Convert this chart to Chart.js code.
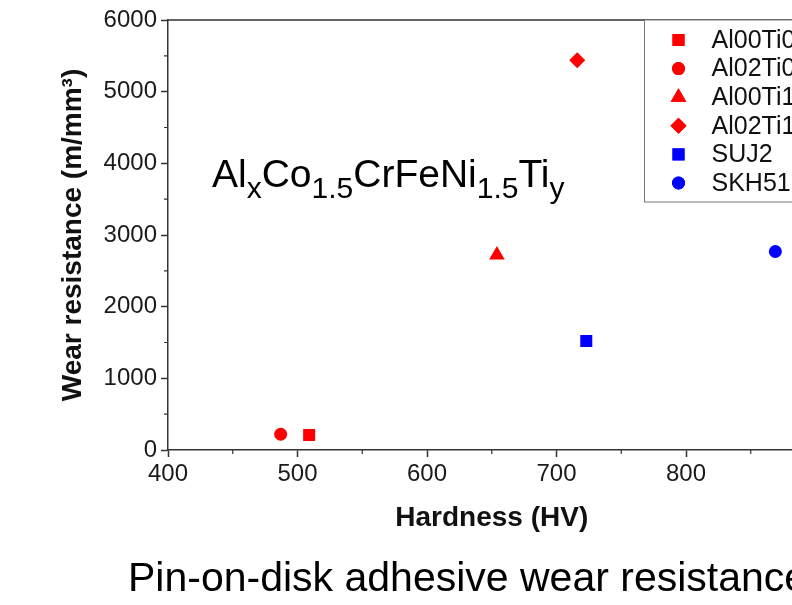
<!DOCTYPE html>
<html>

<head>
    <title>Wear resistance vs hardness</title>
    <script src="https://cdn.jsdelivr.net/npm/chart.js"></script>
    <style>
        html, body { margin: 0; padding: 0; background: #fff; overflow: hidden; }
    </style>
</head>

<body>
    <canvas id="wearChart" width="840" height="605"></canvas>

    <script>
        // samples, in legend order
        const alloys = ['Al00Ti05', 'Al02Ti05', 'Al00Ti10', 'Al02Ti10', 'SUJ2', 'SKH51'];
        const hardness = [509, 487, 654, 716, 723, 869];       // HV
        const wearResistance = [210, 220, 2720, 5440, 1520, 2770]; // m/mm3
        const colors = ['#ff0000', '#ff0000', '#ff0000', '#ff0000', '#0000ff', '#0000ff'];
        const shapes = ['rect', 'circle', 'triangle', 'rectRot', 'rect', 'circle'];
        const sizes = [8.5, 6.5, 9, 8, 8.5, 6.5];

        const xTicks = [400, 500, 600, 700, 800, 900];
        const yTicks = [0, 1000, 2000, 3000, 4000, 5000, 6000];

        const FONT = "'Liberation Sans', Arial, Helvetica, sans-serif";
        const AXIS = '#333';

        const datasets = alloys.map((name, i) => ({
            label: name,
            data: [{ x: hardness[i], y: wearResistance[i] }],
            pointStyle: shapes[i],
            pointRadius: sizes[i],
            pointHoverRadius: sizes[i],
            backgroundColor: colors[i],
            borderColor: colors[i],
            borderWidth: 0,
        }));

        // frame, minor ticks, legend box, formula and caption
        const decorations = {
            id: 'decorations',
            afterDraw(chart) {
                const ctx = chart.ctx;
                const a = chart.chartArea;
                const xs = chart.scales.x, ys = chart.scales.y;
                ctx.save();

                // top and right edges of the frame
                ctx.strokeStyle = AXIS;
                ctx.lineWidth = 1.5;
                ctx.beginPath();
                ctx.moveTo(a.left, a.top);
                ctx.lineTo(a.right, a.top);
                ctx.lineTo(a.right, a.bottom);
                ctx.stroke();

                // minor ticks halfway between the labelled ones
                ctx.lineWidth = 1.2;
                ctx.beginPath();
                for (let i = 0; i < xTicks.length - 1; i++) {
                    const px = xs.getPixelForValue((xTicks[i] + xTicks[i + 1]) / 2);
                    ctx.moveTo(px, a.bottom);
                    ctx.lineTo(px, a.bottom + 4);
                }
                for (let i = 0; i < yTicks.length - 1; i++) {
                    const py = ys.getPixelForValue((yTicks[i] + yTicks[i + 1]) / 2);
                    ctx.moveTo(a.left, py);
                    ctx.lineTo(a.left - 4, py);
                }
                ctx.stroke();

                // legend in the top right corner
                const boxW = 171, rowH = 28.6;
                const bx = a.right - boxW, by = a.top;
                ctx.fillStyle = '#fff';
                ctx.fillRect(bx, by, boxW, 182);
                ctx.strokeStyle = '#777';
                ctx.lineWidth = 1;
                ctx.strokeRect(bx, by, boxW, 182);
                ctx.font = '25px ' + FONT;
                ctx.textBaseline = 'middle';
                ctx.textAlign = 'left';
                chart.data.datasets.forEach((ds, i) => {
                    const cy = by + 20 + i * rowH;
                    ctx.fillStyle = ds.backgroundColor;
                    Chart.helpers.drawPoint(ctx, {
                        pointStyle: ds.pointStyle,
                        radius: ds.pointRadius,
                        borderWidth: 0,
                        rotation: 0
                    }, bx + 34, cy);
                    ctx.fill();
                    ctx.fillStyle = '#111';
                    ctx.fillText(ds.label, bx + 67, cy + 1);
                });

                // alloy formula with subscripts
                const parts = [['Al', 0], ['x', 1], ['Co', 0], ['1.5', 1], ['CrFeNi', 0], ['1.5', 1], ['Ti', 0], ['y', 1]];
                let tx = 212;
                ctx.fillStyle = '#000';
                ctx.textBaseline = 'alphabetic';
                parts.forEach(([t, sub]) => {
                    ctx.font = (sub ? '30px ' : '39px ') + FONT;
                    ctx.fillText(t, tx, sub ? 198 : 187);
                    tx += ctx.measureText(t).width;
                });

                // caption under the figure
                ctx.font = '41px ' + FONT;
                ctx.fillText('Pin-on-disk adhesive wear resistance', 128, 591);
                ctx.restore();
            }
        };

        function createScatterChart() {
            const ctx = document.getElementById('wearChart').getContext('2d');

            const options = {
                responsive: false,
                animation: false,
                layout: { padding: { top: 20, right: 24.5, left: 0, bottom: 0 } },
                plugins: {
                    legend: { display: false },
                    tooltip: { enabled: false }
                },
                scales: {
                    x: {
                        type: 'linear',
                        min: xTicks[0],
                        max: xTicks[xTicks.length - 1],
                        afterFit(scale) { scale.height = 155; },
                        afterBuildTicks(scale) { scale.ticks = xTicks.map(v => ({ value: v })); },
                        grid: { drawOnChartArea: false, tickLength: 7, tickColor: AXIS, tickWidth: 1.5 },
                        border: { color: AXIS, width: 1.5 },
                        ticks: {
                            color: '#1a1a1a', padding: 3,
                            font: { family: FONT, size: 24 },
                            callback: v => String(v)
                        },
                        title: {
                            display: true,
                            text: 'Hardness (HV)',
                            color: '#111',
                            font: { family: FONT, size: 28, weight: 'bold' },
                            padding: { top: 0, bottom: 70.2 }
                        }
                    },
                    y: {
                        min: yTicks[0],
                        max: yTicks[yTicks.length - 1],
                        afterFit(scale) { scale.width = 168; },
                        afterBuildTicks(scale) { scale.ticks = yTicks.map(v => ({ value: v })); },
                        grid: { drawOnChartArea: false, tickLength: 7, tickColor: AXIS, tickWidth: 1.5 },
                        border: { color: AXIS, width: 1.5 },
                        ticks: {
                            color: '#1a1a1a', padding: 4,
                            font: { family: FONT, size: 24 },
                            callback: v => String(v)
                        },
                        title: {
                            display: true,
                            text: 'Wear resistance (m/mm\u00b3)',
                            color: '#111',
                            font: { family: FONT, size: 28, weight: 'bold' },
                            padding: { top: 56.2, bottom: 0 }
                        }
                    }
                }
            };

            new Chart(ctx, { type: 'scatter', data: { datasets }, options, plugins: [decorations] });
        }

        createScatterChart();
    </script>

</body>

</html>
